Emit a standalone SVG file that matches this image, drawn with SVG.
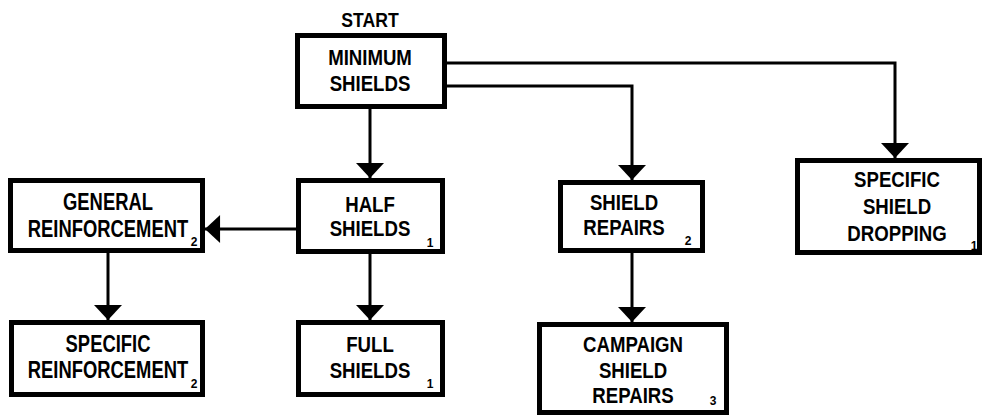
<svg xmlns="http://www.w3.org/2000/svg" width="984" height="418" viewBox="0 0 984 418">
<style>
.box{fill:#fff;stroke:#000;stroke-width:5}
.lbl{font-family:"Liberation Sans",Arial,sans-serif;font-weight:bold;font-size:23px;text-anchor:middle;fill:#000}
.sub{font-family:"Liberation Sans",Arial,sans-serif;font-weight:bold;font-size:12px;text-anchor:middle;fill:#000}
.conn{fill:none;stroke:#000;stroke-width:3}
</style>
<defs>
<marker id="arr" markerUnits="userSpaceOnUse" markerWidth="28" markerHeight="28" viewBox="0 0 14 26" refX="14" refY="13" orient="auto">
<path d="M0,0 L14,13 L0,26 Z" fill="#000"/>
</marker>
</defs>
<rect width="984" height="418" fill="#fff"/>
<g id="connectors">
<path class="conn" d="M370,109 V178" marker-end="url(#arr)"/>
<path class="conn" d="M447,63 H895 V158" marker-end="url(#arr)"/>
<path class="conn" d="M447,86 H632 V180" marker-end="url(#arr)"/>
<path class="conn" d="M296,229 H205" marker-end="url(#arr)"/>
<path class="conn" d="M370,254 V320" marker-end="url(#arr)"/>
<path class="conn" d="M108,253 V320" marker-end="url(#arr)"/>
<path class="conn" d="M632,253 V322" marker-end="url(#arr)"/>
</g>
<g id="start">
<g transform="translate(370 0) scale(0.84 1)"><text class="lbl" style="font-size:21px" x="0" y="27">START</text></g>
</g>
<g id="minimum-shields">
<rect class="box" x="297.5" y="35.5" width="147" height="71"/>
<g transform="translate(370 0) scale(0.81 1)"><text class="lbl" x="0" y="65">MINIMUM</text><text class="lbl" x="0" y="91">SHIELDS</text></g>
</g>
<g id="half-shields">
<rect class="box" x="298.5" y="180.5" width="144" height="71"/>
<g transform="translate(370 0) scale(0.81 1)"><text class="lbl" x="0" y="212">HALF</text><text class="lbl" x="0" y="236">SHIELDS</text></g>
<text class="sub" x="430" y="247">1</text>
</g>
<g id="general-reinforcement">
<rect class="box" x="10.5" y="180.5" width="192" height="70"/>
<g transform="translate(108 0) scale(0.8 1)"><text class="lbl" x="0" y="210">GENERAL</text><text class="lbl" x="0" y="237">REINFORCEMENT</text></g>
<text class="sub" x="194" y="246">2</text>
</g>
<g id="shield-repairs">
<rect class="box" x="560.5" y="182.5" width="142" height="68"/>
<g transform="translate(624 0) scale(0.81 1)"><text class="lbl" x="0" y="210">SHIELD</text><text class="lbl" x="0" y="235">REPAIRS</text></g>
<text class="sub" x="688" y="245">2</text>
</g>
<g id="specific-shield-dropping">
<rect class="box" x="797.5" y="160.5" width="182" height="92"/>
<g transform="translate(897 0) scale(0.81 1)"><text class="lbl" x="0" y="187">SPECIFIC</text><text class="lbl" x="0" y="214">SHIELD</text><text class="lbl" x="0" y="241">DROPPING</text></g>
<text class="sub" x="974" y="250">1</text>
</g>
<g id="specific-reinforcement">
<rect class="box" x="11.5" y="322.5" width="191" height="72"/>
<g transform="translate(108 0) scale(0.8 1)"><text class="lbl" x="0" y="352">SPECIFIC</text><text class="lbl" x="0" y="378">REINFORCEMENT</text></g>
<text class="sub" x="194" y="388">2</text>
</g>
<g id="full-shields">
<rect class="box" x="298.5" y="322.5" width="144" height="72"/>
<g transform="translate(370 0) scale(0.81 1)"><text class="lbl" x="0" y="352">FULL</text><text class="lbl" x="0" y="378">SHIELDS</text></g>
<text class="sub" x="430" y="388">1</text>
</g>
<g id="campaign-shield-repairs">
<rect class="box" x="539.5" y="324.5" width="187" height="88"/>
<g transform="translate(633 0) scale(0.81 1)"><text class="lbl" x="0" y="352">CAMPAIGN</text><text class="lbl" x="0" y="378">SHIELD</text><text class="lbl" x="0" y="403">REPAIRS</text></g>
<text class="sub" x="713" y="405">3</text>
</g>
</svg>
